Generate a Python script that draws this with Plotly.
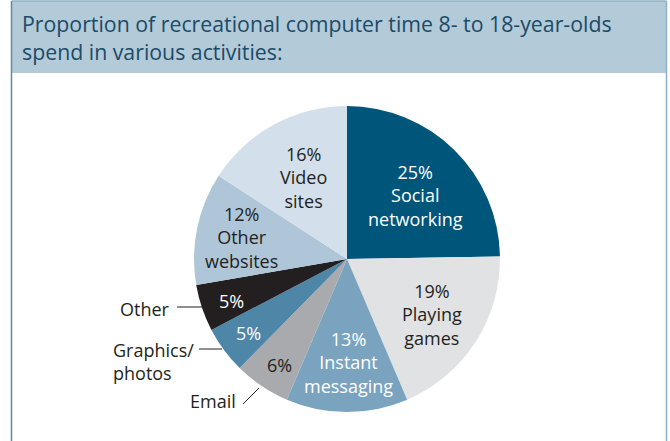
import plotly.graph_objects as go

# ---- data ----
categories = ["Social networking", "Playing games", "Instant messaging", "Email",
              "Graphics/photos", "Other", "Other websites", "Video sites"]
values = [25, 19, 13, 6, 5, 5, 12, 16]
colors = ["#00567a", "#e1e2e4", "#7aa3bf", "#a8aaad", "#4e86a7", "#231f20", "#afc6d9", "#d3e0eb"]
inside_text = ["25%<br>Social<br>networking", "19%<br>Playing<br>games", "13%<br>Instant<br>messaging",
               "6%", "5%", "5%", "12%<br>Other<br>websites", "16%<br>Video<br>sites"]
text_colors = ["white", "#231f20", "white", "#231f20", "white", "white", "#231f20", "#231f20"]
title_text = "Proportion of recreational computer time 8- to 18-year-olds<br>spend in various activities:"

W, H = 670, 441
FONT = "Open Sans"
LAB = 18

# layout (pixel) positions for the labels
inside_pos = [(415, 195), (432, 314), (348, 362), (279, 365), (248, 333), (231, 301), (241, 237), (303, 178)]
outside_labels = [("Other", 145, 309, "center"), ("Graphics/<br>photos", 111, 361, "left"), ("Email", 213, 401, "center")]
leaders = [((177, 307), (202, 307)), ((199, 349), (222, 349)), ((243, 404), (259, 388))]

cx, cy, r = 347, 259, 153

def px(x):
    return x / W

def py(y):
    return 1 - y / H

fig = go.Figure(go.Pie(
    labels=categories, values=values, sort=False, direction="clockwise", rotation=0,
    marker=dict(colors=colors, line=dict(width=0)),
    textinfo="none", hoverinfo="label+percent", showlegend=False,
    domain=dict(x=[px(cx - r), px(cx + r)], y=[py(cy + r), py(cy - r)]),
))

shapes = [
    dict(type="rect", xref="paper", yref="paper", x0=px(12), x1=px(666), y0=py(73), y1=py(1),
         fillcolor="#b3cad9", line=dict(width=0), layer="below"),
    dict(type="line", xref="paper", yref="paper", x0=px(11.5), x1=px(11.5), y0=0, y1=py(1),
         line=dict(color="#5b8aa8", width=1.5)),
    dict(type="line", xref="paper", yref="paper", x0=px(666.5), x1=px(666.5), y0=0, y1=py(1),
         line=dict(color="#8fb0c6", width=1.5)),
    dict(type="line", xref="paper", yref="paper", x0=px(11.5), x1=px(666.5), y0=py(1), y1=py(1),
         line=dict(color="#8fb0c6", width=1.5)),
]
for (a, b) in leaders:
    shapes.append(dict(type="line", xref="paper", yref="paper", x0=px(a[0]), y0=py(a[1]),
                       x1=px(b[0]), y1=py(b[1]), line=dict(color="#231f20", width=1)))

annotations = [dict(text=title_text, xref="paper", yref="paper", x=px(20), y=py(37.5),
                    xanchor="left", yanchor="middle", align="left", showarrow=False,
                    font=dict(family=FONT, size=21.3, color="#1b4b67"))]
for t, c, (x, y) in zip(inside_text, text_colors, inside_pos):
    annotations.append(dict(text=t, xref="paper", yref="paper", x=px(x), y=py(y),
                            xanchor="center", yanchor="middle", align="center", showarrow=False,
                            font=dict(family=FONT, size=LAB, color=c)))
for t, x, y, anc in outside_labels:
    annotations.append(dict(text=t, xref="paper", yref="paper", x=px(x), y=py(y),
                            xanchor=anc, yanchor="middle", align="left", showarrow=False,
                            font=dict(family=FONT, size=LAB, color="#231f20")))

fig.update_layout(
    width=W, height=H, margin=dict(l=0, r=0, t=0, b=0),
    paper_bgcolor="white", plot_bgcolor="white",
    shapes=shapes, annotations=annotations,
)
fig.write_html("out.html", config={"displayModeBar": False},
               post_script="document.body.style.margin='0';")
